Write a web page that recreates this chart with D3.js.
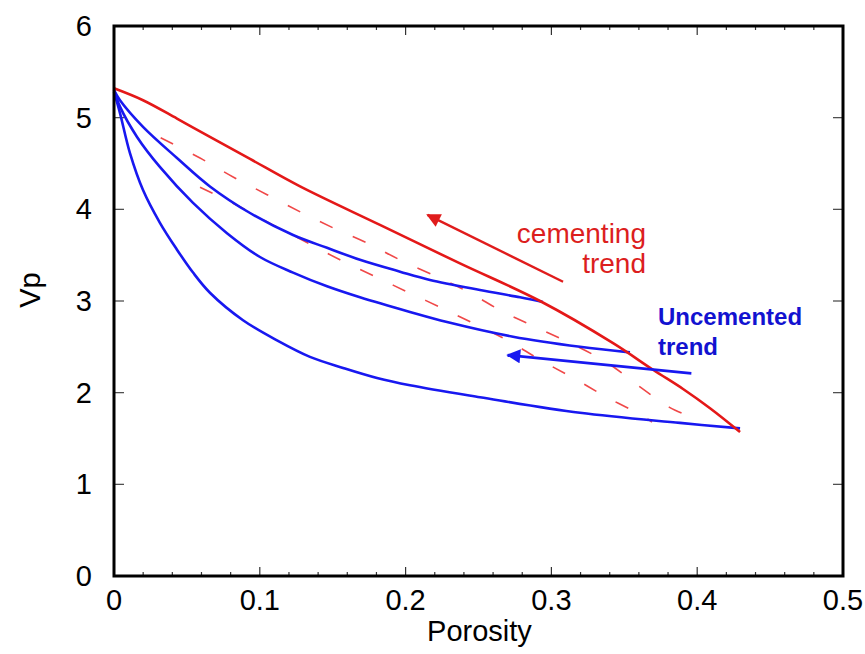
<!DOCTYPE html>
<html>
<head>
<meta charset="utf-8">
<script src="https://cdn.jsdelivr.net/npm/d3@7"></script>
<style>
  body { margin: 0; background: #fff; }
  text { font-family: "Liberation Sans", Arial, sans-serif; }
</style>
</head>
<body>
<svg width="865" height="654"></svg>
<script>
// porosity / Vp values
var redSolid = [[0,5.32],[0.0199,5.19],[0.0432,4.99],[0.0658,4.79],[0.0933,4.55],[0.1276,4.25],[0.1824,3.83],
  [0.2373,3.41],[0.2922,3.00],[0.3423,2.54],[0.3697,2.25],[0.3903,2.04],[0.4088,1.83],[0.4294,1.57]];
var redDash1 = [[0.032,4.78],[0.059,4.56],[0.082,4.35],[0.105,4.16],[0.128,3.97],[0.150,3.80],[0.174,3.63],
  [0.196,3.45],[0.222,3.26],[0.244,3.09],[0.267,2.88],[0.290,2.71],[0.313,2.54],[0.338,2.33],[0.361,2.06],
  [0.381,1.84],[0.392,1.76]];
var redDash2 = [[0.059,4.24],[0.086,4.03],[0.109,3.83],[0.132,3.64],[0.155,3.45],[0.180,3.26],[0.201,3.10],
  [0.224,2.93],[0.246,2.76],[0.270,2.57],[0.292,2.36],[0.315,2.16],[0.338,1.95],[0.361,1.76],[0.369,1.68]];
var blueA = [[0,5.30],[0.0041,5.19],[0.0199,4.90],[0.0432,4.56],[0.0658,4.25],[0.0933,3.96],[0.1228,3.72],
  [0.1461,3.58],[0.1687,3.45],[0.1962,3.32],[0.2167,3.23],[0.2510,3.12],[0.2785,3.04],[0.2942,2.99]];
var blueB = [[0,5.30],[0.0041,5.12],[0.0158,4.79],[0.0316,4.46],[0.0542,4.07],[0.0775,3.74],[0.1001,3.48],
  [0.1228,3.31],[0.1461,3.16],[0.1687,3.04],[0.2030,2.88],[0.2284,2.77],[0.2737,2.61],[0.3196,2.50],
  [0.3539,2.44]];
var blueC = [[0,5.28],[0.0041,5.05],[0.0110,4.61],[0.0199,4.21],[0.0316,3.85],[0.0432,3.56],[0.0542,3.31],
  [0.0658,3.09],[0.0885,2.79],[0.1118,2.57],[0.1344,2.39],[0.1571,2.27],[0.1804,2.16],[0.2030,2.08],
  [0.2510,1.95],[0.3196,1.78],[0.3882,1.67],[0.4294,1.61]];
var cementArrow = [[0.308,3.21],[0.215,3.94]];
var uncemArrow = [[0.396,2.21],[0.270,2.41]];
var xTicks = [0, 0.1, 0.2, 0.3, 0.4, 0.5];
var yTicks = [0, 1, 2, 3, 4, 5, 6];

var svg = d3.select("svg"),
    margin = {top: 26, right: 22, bottom: 78, left: 114},
    width = +svg.attr("width") - margin.left - margin.right,
    height = +svg.attr("height") - margin.top - margin.bottom;

var x = d3.scaleLinear().domain([0, 0.5]).range([0, width]),
    y = d3.scaleLinear().domain([0, 6]).range([height, 0]);

var g = svg.append("g").attr("transform", "translate(" + margin.left + "," + margin.top + ")");

var line = d3.line()
    .curve(d3.curveCatmullRom.alpha(0.5))
    .x(function(d) { return x(d[0]); })
    .y(function(d) { return y(d[1]); });

// ticks (inward on all four sides)
var minor = d3.range(0, 0.5001, 0.02);
function xt(sel, y0, dir) {
  sel.selectAll(null).data(minor).enter().append("line")
    .attr("x1", function(d) { return x(d); }).attr("x2", function(d) { return x(d); })
    .attr("y1", y0)
    .attr("y2", function(d, i) { return y0 + dir * (i % 5 === 0 ? 9 : 4); })
    .attr("stroke", "#333").attr("stroke-width", 1.2);
}
xt(g, height, -1);
xt(g, 0, 1);
g.selectAll(".yt").data(yTicks).enter().append("line")
  .attr("x1", 0).attr("x2", 10)
  .attr("y1", function(d) { return y(d); }).attr("y2", function(d) { return y(d); })
  .attr("stroke", "#444").attr("stroke-width", 1.2);
g.selectAll(".yt2").data(yTicks).enter().append("line")
  .attr("x1", width).attr("x2", width - 10)
  .attr("y1", function(d) { return y(d); }).attr("y2", function(d) { return y(d); })
  .attr("stroke", "#444").attr("stroke-width", 1.2);

// tick labels
g.selectAll(".xl").data(xTicks).enter().append("text")
  .attr("x", function(d) { return x(d); })
  .attr("y", height + 34)
  .attr("text-anchor", "middle")
  .style("font-size", "29px")
  .text(function(d) { return d === 0 ? "0" : d3.format(".1f")(d); });
g.selectAll(".yl").data(yTicks).enter().append("text")
  .attr("x", -22)
  .attr("y", function(d) { return y(d) + 10; })
  .attr("text-anchor", "end")
  .style("font-size", "29px")
  .text(function(d) { return d; });

svg.append("text")
  .attr("x", margin.left + width / 2 + 1)
  .attr("y", 641)
  .attr("text-anchor", "middle")
  .style("font-size", "29px")
  .text("Porosity");
svg.append("text")
  .attr("transform", "translate(40,290)rotate(-90)")
  .attr("text-anchor", "middle")
  .style("font-size", "29px")
  .text("Vp");

// curves
[redDash1, redDash2].forEach(function(d) {
  g.append("path").attr("d", line(d))
    .attr("fill", "none").attr("stroke", "#f04848").attr("stroke-width", 1.6)
    .attr("stroke-dasharray", "14,22");
});
[blueA, blueB, blueC].forEach(function(d) {
  g.append("path").attr("d", line(d))
    .attr("fill", "none").attr("stroke", "#1818f0").attr("stroke-width", 2.6);
});
g.append("path").attr("d", line(redSolid))
  .attr("fill", "none").attr("stroke", "#e41818").attr("stroke-width", 2.6);

// annotation arrows
var defs = svg.append("defs");
function marker(id, col) {
  defs.append("marker").attr("id", id)
    .attr("viewBox", "0 0 10 10").attr("refX", 9).attr("refY", 5)
    .attr("markerWidth", 18).attr("markerHeight", 14).attr("markerUnits", "userSpaceOnUse")
    .attr("orient", "auto")
    .append("path").attr("d", "M0,0L10,5L0,10Z").attr("fill", col);
}
marker("mr", "#e01c1c");
marker("mb", "#1818f0");
g.append("line")
  .attr("x1", x(cementArrow[0][0])).attr("y1", y(cementArrow[0][1]))
  .attr("x2", x(cementArrow[1][0])).attr("y2", y(cementArrow[1][1]))
  .attr("stroke", "#e01c1c").attr("stroke-width", 2.4).attr("marker-end", "url(#mr)");
g.append("line")
  .attr("x1", x(uncemArrow[0][0])).attr("y1", y(uncemArrow[0][1]))
  .attr("x2", x(uncemArrow[1][0])).attr("y2", y(uncemArrow[1][1]))
  .attr("stroke", "#1818f0").attr("stroke-width", 2.6).attr("marker-end", "url(#mb)");

svg.append("text").attr("x", 646).attr("y", 243).attr("text-anchor", "end")
  .attr("fill", "#dc1e1e").style("font-size", "28px").text("cementing");
svg.append("text").attr("x", 646).attr("y", 273).attr("text-anchor", "end")
  .attr("fill", "#dc1e1e").style("font-size", "28px").text("trend");
svg.append("text").attr("x", 658).attr("y", 325)
  .attr("fill", "#1212d0").style("font-size", "24px").style("font-weight", "bold").text("Uncemented");
svg.append("text").attr("x", 658).attr("y", 355)
  .attr("fill", "#1212d0").style("font-size", "24px").style("font-weight", "bold").text("trend");

// frame
g.append("rect").attr("width", width).attr("height", height)
  .attr("fill", "none").attr("stroke", "#000").attr("stroke-width", 3);
</script>
</body>
</html>
